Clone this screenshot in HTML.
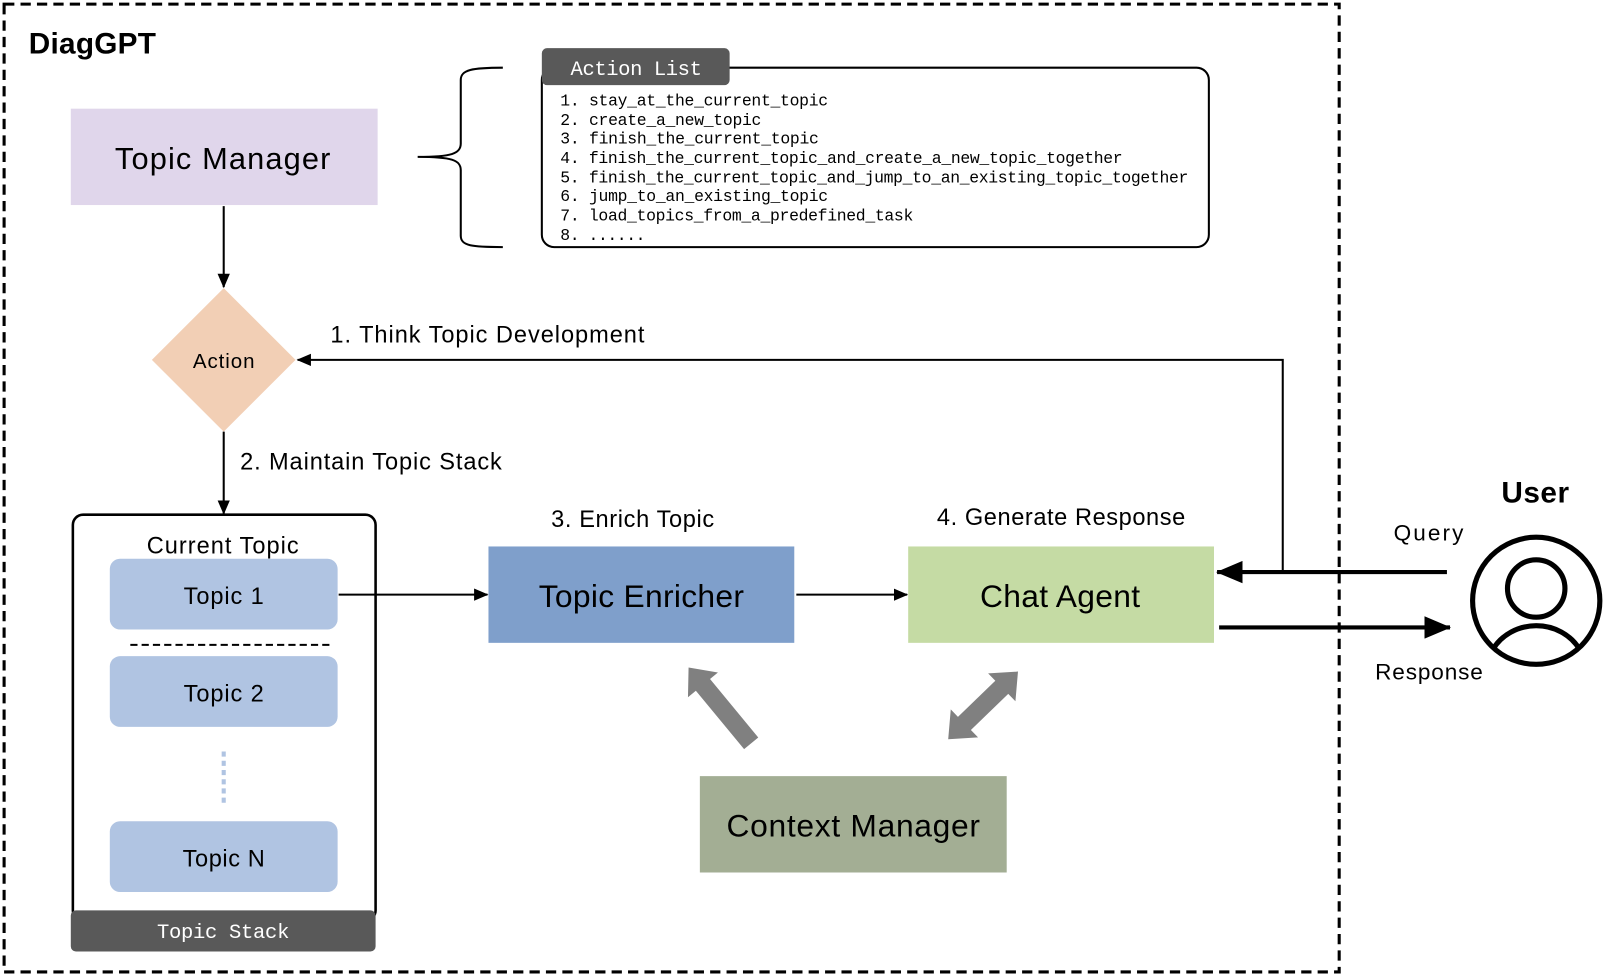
<!DOCTYPE html>
<html><head><meta charset="utf-8"><style>
html,body{margin:0;padding:0;background:#fff;}
svg{display:block;}
text{font-family:"Liberation Sans",sans-serif;}
.m{font-family:"Liberation Mono",monospace;}
</style></head><body>
<svg width="1606" height="974" viewBox="0 0 1565 950" preserveAspectRatio="none" xmlns="http://www.w3.org/2000/svg">
<defs>
<marker id="a" markerUnits="userSpaceOnUse" markerWidth="14" markerHeight="12" refX="13" refY="6" orient="auto"><path d="M0,0 L14,6 L0,12 z" fill="#000"/></marker>
<marker id="b" markerUnits="userSpaceOnUse" markerWidth="26" markerHeight="22" refX="25" refY="11" orient="auto"><path d="M0,0 L26,11 L0,22 z" fill="#000"/></marker>
</defs>
<rect x="4" y="4" width="1301" height="944" fill="none" stroke="#000" stroke-width="3" stroke-dasharray="10,6"/>
<text x="28" y="52" font-size="29" font-weight="bold" textLength="124">DiagGPT</text>

<rect x="69" y="106" width="299" height="94" fill="#e0d6eb"/>
<text x="112" y="165" font-size="30" textLength="210">Topic Manager</text>

<path d="M407,153 C440,153 449,150 449,140 L449,78 C449,68 460,66 490,66 M407,153 C440,153 449,156 449,166 L449,230 C449,240 460,241 490,241" fill="none" stroke="#000" stroke-width="2"/>

<rect x="528" y="66" width="650" height="175" rx="12" fill="#fff" stroke="#000" stroke-width="2"/>
<rect x="528" y="47" width="183" height="36" rx="5" fill="#595959"/>
<text class="m" x="556" y="73" font-size="20" fill="#fff" textLength="128">Action List</text>
<g font-size="16">
<text x="546" y="103" class="m" textLength="261">1. stay_at_the_current_topic</text>
<text x="546" y="122" class="m" textLength="196">2. create_a_new_topic</text>
<text x="546" y="140" class="m" textLength="252">3. finish_the_current_topic</text>
<text x="546" y="159" class="m" textLength="548">4. finish_the_current_topic_and_create_a_new_topic_together</text>
<text x="546" y="178" class="m" textLength="612">5. finish_the_current_topic_and_jump_to_an_existing_topic_together</text>
<text x="546" y="196" class="m" textLength="261">6. jump_to_an_existing_topic</text>
<text x="546" y="215" class="m" textLength="344">7. load_topics_from_a_predefined_task</text>
<text x="546" y="234" class="m" textLength="83">8. ......</text>
</g>

<line x1="218" y1="201" x2="218" y2="280" stroke="#000" stroke-width="2" marker-end="url(#a)"/>
<polygon points="218,281 288,351 218,421 148,351" fill="#f2cfb5"/>
<text x="188" y="359" font-size="20" textLength="60">Action</text>

<polyline points="1250,556 1250,351 290,351" fill="none" stroke="#000" stroke-width="2" marker-end="url(#a)"/>
<text x="322" y="334" font-size="23" textLength="306">1. Think Topic Development</text>

<line x1="218" y1="421" x2="218" y2="501" stroke="#000" stroke-width="2" marker-end="url(#a)"/>
<text x="234" y="458" font-size="23" textLength="255">2. Maintain Topic Stack</text>

<rect x="71" y="502" width="295" height="396" rx="10" fill="#fff" stroke="#000" stroke-width="2.5"/>
<rect x="69" y="888" width="297" height="40" rx="5" fill="#595959"/>
<text class="m" x="153" y="915" font-size="20" fill="#fff" textLength="129">Topic Stack</text>
<text x="143" y="540" font-size="23" textLength="148">Current Topic</text>
<rect x="107" y="545" width="222" height="69" rx="10" fill="#b0c4e2"/>
<text x="179" y="589" font-size="23" textLength="78">Topic 1</text>
<line x1="127" y1="629" x2="324" y2="629" stroke="#000" stroke-width="2" stroke-dasharray="7,4"/>
<rect x="107" y="640" width="222" height="69" rx="10" fill="#b0c4e2"/>
<text x="179" y="684" font-size="23" textLength="78">Topic 2</text>
<line x1="218" y1="733" x2="218" y2="786" stroke="#b0c4e2" stroke-width="4" stroke-dasharray="5,4"/>
<rect x="107" y="801" width="222" height="69" rx="10" fill="#b0c4e2"/>
<text x="178" y="845" font-size="23" textLength="80">Topic N</text>

<line x1="330" y1="580" x2="475" y2="580" stroke="#000" stroke-width="2" marker-end="url(#a)"/>
<rect x="476" y="533" width="298" height="94" fill="#7f9fcb"/>
<text x="525" y="592" font-size="31" textLength="200">Topic Enricher</text>
<text x="537" y="514" font-size="23" textLength="159">3. Enrich Topic</text>

<line x1="776" y1="580" x2="884" y2="580" stroke="#000" stroke-width="2" marker-end="url(#a)"/>
<rect x="885" y="533" width="298" height="94" fill="#c5dba4"/>
<text x="955" y="592" font-size="31" textLength="156">Chat Agent</text>
<text x="913" y="512" font-size="23" textLength="242">4. Generate Response</text>

<line x1="1410" y1="558" x2="1186" y2="558" stroke="#000" stroke-width="4" marker-end="url(#b)"/>
<line x1="1188" y1="612" x2="1413" y2="612" stroke="#000" stroke-width="4" marker-end="url(#b)"/>
<text x="1358" y="527" font-size="22" textLength="68">Query</text>
<text x="1340" y="663" font-size="22" textLength="105">Response</text>
<text x="1463" y="490" font-size="29" font-weight="bold" textLength="66">User</text>
<circle cx="1497" cy="586" r="62" fill="none" stroke="#000" stroke-width="5"/>
<circle cx="1497" cy="574" r="28" fill="none" stroke="#000" stroke-width="5"/>
<path d="M1455,633 A48,44 0 0 1 1539,633" fill="none" stroke="#000" stroke-width="5"/>

<rect x="682" y="757" width="299" height="94" fill="#a3ae94"/>
<text x="708" y="816" font-size="31" textLength="247">Context Manager</text>

<polygon points="738.9,719.3 691.9,662.3 699.6,655.9 671,651 670.4,680.1 678.1,673.7 725.1,730.7" fill="#808080"/>
<polygon points="992,655 989.5,684 982.5,676.8 946.1,712 953.1,719.2 924,721 926.5,691.9 933.5,699.2 969.9,664 962.9,656.8" fill="#808080"/>
</svg>
</body></html>
